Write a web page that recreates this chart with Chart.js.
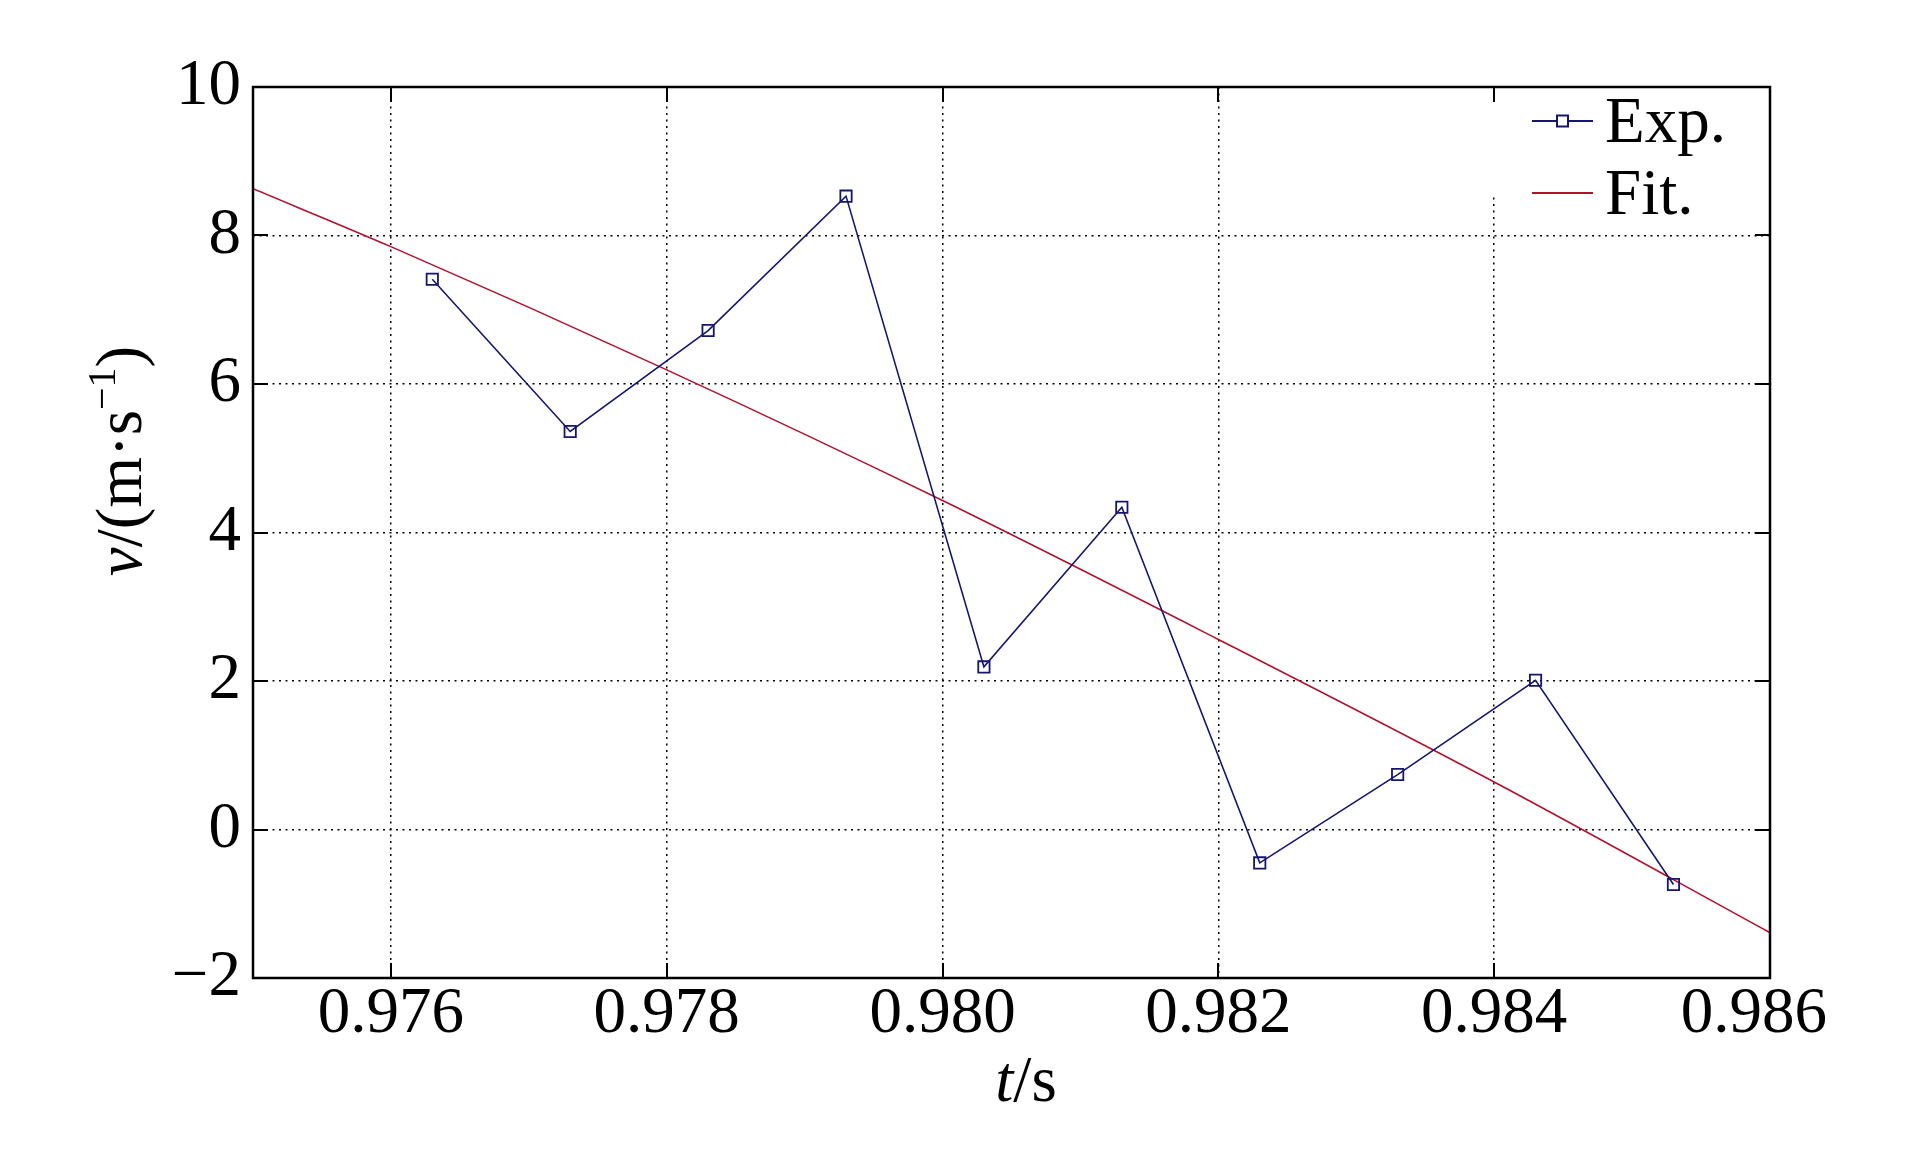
<!DOCTYPE html>
<html>
<head>
<meta charset="utf-8">
<script src="https://cdn.jsdelivr.net/npm/chart.js@4/dist/chart.umd.min.js"></script>
<style>
  html, body { margin: 0; padding: 0; background: #fff; }
  canvas { display: block; }
</style>
</head>
<body>
<canvas id="c" width="1923" height="1169" style="width:1923px;height:1169px"></canvas>
<script>
const tExp = [0.9763, 0.9773, 0.9783, 0.9793, 0.9803, 0.9813, 0.9823, 0.9833, 0.9843, 0.9853];
const vExp = [7.41, 5.36, 6.72, 8.53, 2.19, 4.34, -0.45, 0.74, 2.01, -0.74];
const tFit = [0.975, 0.976, 0.978, 0.980, 0.982, 0.984, 0.986];
const vFit = [8.63, 7.85, 6.19, 4.43, 2.56, 0.64, -1.39];
const xTicks = [0.976, 0.978, 0.980, 0.982, 0.984, 0.986];
const yTicks = [-2, 0, 2, 4, 6, 8, 10];
const seriesNames = ['Exp.', 'Fit.'];

const FONT = "'Liberation Serif', 'Times New Roman', serif";
const EXP_COLOR = '#16166e';
const FIT_COLOR = '#b0122c';

// box, inward ticks, legend and axis titles drawn matlab style
const frame = {
    id: 'frame',
    afterDatasetsDraw(chart) {
        const ctx = chart.ctx;
        const ca = chart.chartArea;
        const ds = chart.data.datasets;
        ctx.save();
        ctx.fillStyle = '#fff';
        ctx.fillRect(ca.right - 290, ca.top + 2, 288, 105);
        const x0 = ca.right - 238, x1 = ca.right - 177, tx = ca.right - 165;
        const rows = [ca.top + 34, ca.top + 106];
        ds.forEach((d, i) => {
            const y = rows[i];
            ctx.strokeStyle = d.borderColor;
            ctx.lineWidth = 2;
            ctx.beginPath();
            ctx.moveTo(x0, y);
            ctx.lineTo(x1, y);
            ctx.stroke();
            if (d.pointRadius > 0) {
                ctx.fillStyle = '#fff';
                ctx.fillRect((x0 + x1) / 2 - 5.5, y - 5.5, 11, 11);
                ctx.strokeRect((x0 + x1) / 2 - 5.5, y - 5.5, 11, 11);
            }
            ctx.fillStyle = '#000';
            ctx.font = '65px ' + FONT;
            ctx.textBaseline = 'alphabetic';
            ctx.textAlign = 'left';
            ctx.fillText(d.label, tx, y + 21);
        });
        ctx.restore();
    },
    afterDraw(chart) {
        const ctx = chart.ctx;
        const ca = chart.chartArea;
        const xs = chart.scales.x, ys = chart.scales.y;
        ctx.save();
        ctx.strokeStyle = '#000';
        ctx.lineWidth = 2;
        const tl = 15;
        xTicks.forEach(v => {
            const p = Math.round(xs.getPixelForValue(v));
            ctx.beginPath();
            ctx.moveTo(p, ca.bottom); ctx.lineTo(p, ca.bottom - tl);
            ctx.moveTo(p, ca.top); ctx.lineTo(p, ca.top + tl);
            ctx.stroke();
        });
        yTicks.forEach(v => {
            const p = Math.round(ys.getPixelForValue(v));
            ctx.beginPath();
            ctx.moveTo(ca.left, p); ctx.lineTo(ca.left + tl, p);
            ctx.moveTo(ca.right, p); ctx.lineTo(ca.right - tl, p);
            ctx.stroke();
        });
        ctx.lineWidth = 2.5;
        ctx.strokeRect(ca.left, ca.top, ca.right - ca.left, ca.bottom - ca.top);

        // axis titles
        ctx.fillStyle = '#000';
        ctx.textBaseline = 'alphabetic';
        ctx.textAlign = 'left';
        const drawParts = (parts, cx) => {
            let w = 0;
            parts.forEach(pt => { ctx.font = pt[1]; w += ctx.measureText(pt[0]).width; });
            let x = cx - w / 2;
            parts.forEach(pt => {
                ctx.font = pt[1];
                ctx.fillText(pt[0], x, pt[2] || 0);
                x += ctx.measureText(pt[0]).width;
            });
        };
        const norm = '65px ' + FONT, ital = 'italic 65px ' + FONT, sup = '40px ' + FONT;
        ctx.save();
        ctx.translate(0, 1101);
        drawParts([['t', ital], ['/s', norm]], 1026);
        ctx.restore();
        ctx.save();
        ctx.translate(141, 461);
        ctx.rotate(-Math.PI / 2);
        drawParts([['v', ital], ['/(m\u00b7s', norm], ['\u22121', sup, -26], [')', norm]], 0);
        ctx.restore();
        ctx.restore();
    }
};

new Chart(document.getElementById('c'), {
    type: 'line',
    data: {
        datasets: [{
            label: seriesNames[0],
            data: tExp.map((t, i) => ({ x: t, y: vExp[i] })),
            borderColor: EXP_COLOR,
            borderWidth: 1.6,
            pointStyle: 'rect',
            pointRadius: 8,
            pointBorderWidth: 1.8,
            pointBorderColor: EXP_COLOR,
            pointBackgroundColor: 'rgba(0,0,0,0)',
            tension: 0
        }, {
            label: seriesNames[1],
            data: tFit.map((t, i) => ({ x: t, y: vFit[i] })),
            borderColor: FIT_COLOR,
            borderWidth: 1.6,
            pointRadius: 0,
            cubicInterpolationMode: 'monotone'
        }]
    },
    options: {
        responsive: false,
        devicePixelRatio: 1,
        animation: false,
        layout: { padding: { top: 87, right: 153, left: 0, bottom: 0 } },
        plugins: { legend: { display: false }, tooltip: { enabled: false } },
        scales: {
            x: {
                type: 'linear',
                min: 0.975,
                max: 0.986,
                afterBuildTicks: s => { s.ticks = xTicks.map(v => ({ value: v })); },
                afterFit: s => { s.height = 191; },
                grid: { color: '#000', lineWidth: 1.5, drawTicks: false },
                border: { display: false, dash: [2, 4.5] },
                ticks: {
                    color: '#000',
                    padding: 0,
                    maxRotation: 0,
                    font: { family: FONT, size: 65, lineHeight: 1.14 },
                    // last label sits a bit left of its tick, like the original
                    callback: v => v.toFixed(3) + (v === xTicks[xTicks.length - 1] ? '\u2002' : '')
                }
            },
            y: {
                type: 'linear',
                min: -2,
                max: 10,
                afterBuildTicks: s => { s.ticks = yTicks.map(v => ({ value: v })); },
                afterFit: s => { s.width = 253; },
                grid: { color: '#000', lineWidth: 1.5, drawTicks: false },
                border: { display: false, dash: [2, 4.5] },
                ticks: {
                    color: '#000',
                    padding: 12,
                    font: { family: FONT, size: 65 },
                    callback: v => (v < 0 ? '\u2212' + Math.abs(v) : String(v))
                }
            }
        }
    },
    plugins: [frame]
});
</script>
</body>
</html>
